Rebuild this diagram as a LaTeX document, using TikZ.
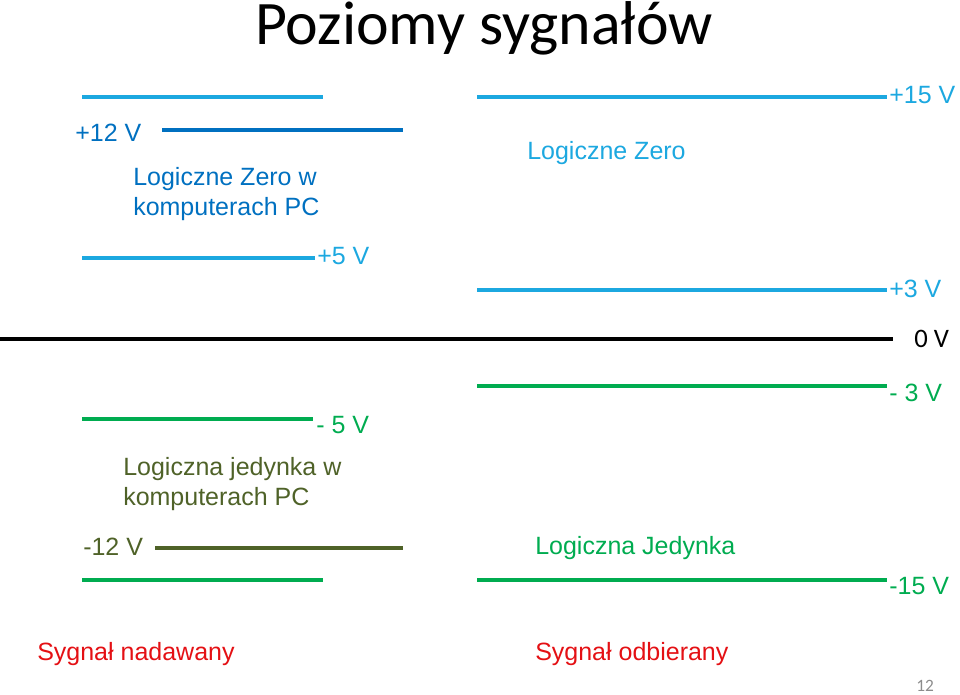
\documentclass[tikz,border=0pt]{standalone}
\usepackage{fontspec}
\setmainfont{Liberation Sans}
\newfontfamily\calfont{Carlito}
\definecolor{lblue}{RGB}{28,168,224}
\definecolor{dblue}{RGB}{0,112,192}
\definecolor{lgreen}{RGB}{0,172,80}
\definecolor{olive}{RGB}{79,98,40}
\definecolor{sred}{RGB}{228,16,20}
\definecolor{pgray}{RGB}{140,140,140}
\tikzset{
  lvl/.style={line width=2.3pt},
  lbl/.style={anchor=base west, inner sep=0pt, font=\fontsize{18.75}{22.5}\selectfont},
  mlbl/.style={lbl, align=left},
}
\begin{document}
\begin{tikzpicture}[x=0.75pt,y=-0.75pt]
\useasboundingbox (0,0) rectangle (960,695);
% title
\node[anchor=base, inner sep=0pt, font=\calfont\fontsize{46.4}{50}\selectfont] (title) at (484,45) {Poziomy sygnałów};
% coordinates of level lines
\coordinate (l12a) at (82,97);   \coordinate (l12b) at (323,97);
\coordinate (d12a) at (162,130); \coordinate (d12b) at (403,130);
\coordinate (l5a) at (82,258);   \coordinate (l5b) at (315,258);
\coordinate (r15a) at (477,97);  \coordinate (r15b) at (887,97);
\coordinate (r3a) at (477,290);  \coordinate (r3b) at (887,290);
\coordinate (z0a) at (0,339);    \coordinate (z0b) at (893,339);
\coordinate (rm3a) at (477,386); \coordinate (rm3b) at (887,386);
\coordinate (lm5a) at (82,419);  \coordinate (lm5b) at (313,419);
\coordinate (dm12a) at (155,548);\coordinate (dm12b) at (403,548);
\coordinate (lm12a) at (82,580); \coordinate (lm12b) at (323,580);
\coordinate (rm15a) at (477,580);\coordinate (rm15b) at (887,580);
% lines
\draw[lvl, lblue] (l12a) -- (l12b);
\draw[lvl, dblue] (d12a) -- (d12b);
\draw[lvl, lblue] (l5a) -- (l5b);
\draw[lvl, lblue] (r15a) -- (r15b);
\draw[lvl, lblue] (r3a) -- (r3b);
\draw[line width=2.7pt, black] (z0a) -- (z0b);
\draw[lvl, lgreen] (rm3a) -- (rm3b);
\draw[lvl, lgreen] (lm5a) -- (lm5b);
\draw[lvl, olive] (dm12a) -- (dm12b);
\draw[lvl, lgreen] (lm12a) -- (lm12b);
\draw[lvl, lgreen] (rm15a) -- (rm15b);
% labels
\node[lbl, dblue] (t12) at (75,142) {+12 V};
\node[mlbl, dblue] (tzpc) at (133,216) {Logiczne Zero w\\komputerach PC};
\node[lbl, lblue] (t5) at (317,265) {+5 V};
\node[lbl, lblue] (t15) at (889,104) {+15 V};
\node[lbl, lblue] (tz) at (527,160) {Logiczne Zero};
\node[lbl, lblue] (t3) at (889,297) {+3 V};
\node[anchor=base west, inner sep=0pt, font=\calfont\fontsize{20}{24}\selectfont] (t0) at (914,347) {0 V};
\node[lbl, lgreen] (tm3) at (889,401) {- 3 V};
\node[lbl, lgreen] (tm5) at (316,433) {- 5 V};
\node[mlbl, olive] (tjpc) at (123,505) {Logiczna jedynka w\\komputerach PC};
\node[lbl, olive] (tm12) at (83,555) {-12 V};
\node[lbl, lgreen] (tj) at (535,554) {Logiczna Jedynka};
\node[lbl, lgreen] (tm15) at (889,594) {-15 V};
\node[lbl, sred] (tnad) at (37,660) {Sygnał nadawany};
\node[lbl, sred] (todb) at (535,660) {Sygnał odbierany};
\node[anchor=base west, inner sep=0pt, pgray, font=\calfont\fontsize{13}{15}\selectfont] (pnum) at (916,691) {12};
\end{tikzpicture}
\end{document}
